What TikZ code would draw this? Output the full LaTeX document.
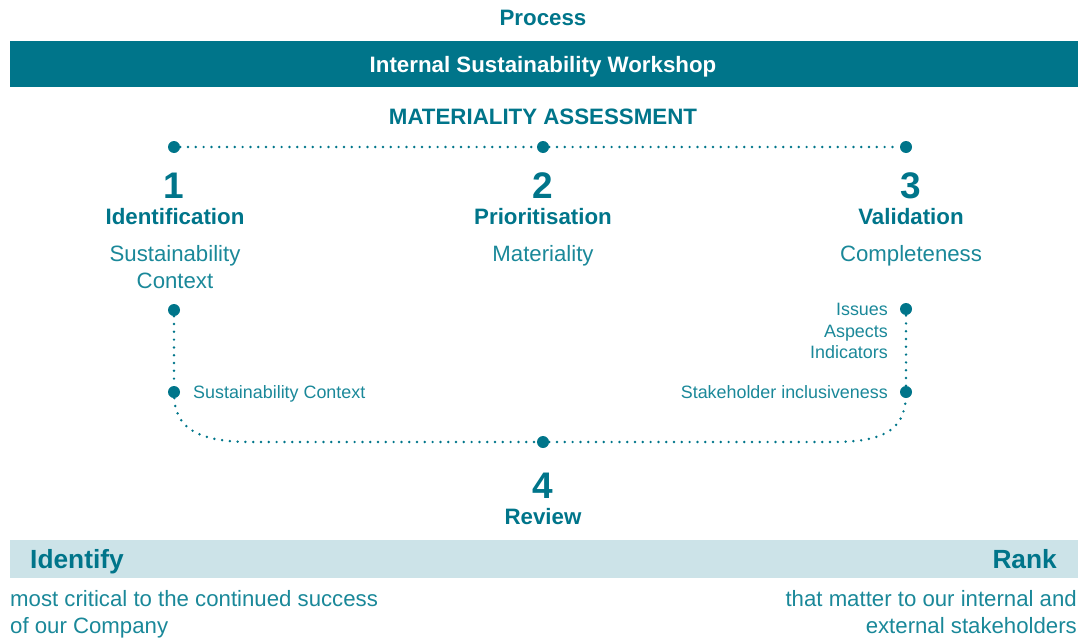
\documentclass[tikz,border=0pt]{standalone}
\usepackage{fontspec}
\setmainfont{Liberation Sans}
\definecolor{tealdark}{HTML}{00758A}
\definecolor{tealtext}{HTML}{1A8899}
\definecolor{teallight}{HTML}{CCE3E8}
\tikzset{
  txt/.style={inner sep=0pt, anchor=base, text=tealtext, font=\fontsize{22.2}{26}\selectfont},
  small/.style={inner sep=0pt, text=tealtext, font=\fontsize{17.9}{21}\selectfont},
  head/.style={inner sep=0pt, anchor=base, text=tealdark, font=\fontsize{22.3}{26}\selectfont\bfseries},
  num/.style={inner sep=0pt, anchor=base, text=tealdark, font=\fontsize{37}{40}\selectfont\bfseries},
  big/.style={inner sep=0pt, text=tealdark, font=\fontsize{26.3}{30}\selectfont\bfseries},
  dotnode/.style={circle, fill=tealdark, minimum size=12pt, inner sep=0pt},
  dotline/.style={draw=tealdark, line width=2.7pt, line cap=round, dash pattern=on 0pt off 7.8pt},
}
\begin{document}
\begin{tikzpicture}[x=1pt,y=-1pt]
\useasboundingbox (0,0) rectangle (1086,637);
% header
\node[head] (process) at (543,25) {Process};
\fill[tealdark] (10,41) rectangle (1078,87);
\node[head, text=white] (workshop) at (543,72) {Internal Sustainability Workshop};
\node[head] (mat) at (543,124) {MATERIALITY ASSESSMENT};
% top dots
\node[dotnode] (d1) at (174,147) {};
\node[dotnode] (d2) at (543,147) {};
\node[dotnode] (d3) at (906,147) {};
\draw[dotline] (d1) -- (d2);
\draw[dotline] (d2) -- (d3);
% steps
\node[num] (n1) at (174,198) {1};
\node[num] (n2) at (543,198) {2};
\node[num] (n3) at (911,198) {3};
\node[head] (h1) at (175,224) {Identification};
\node[head] (h2) at (543,224) {Prioritisation};
\node[head] (h3) at (911,224) {Validation};
\node[txt] (s1a) at (175,261) {Sustainability};
\node[txt] (s1b) at (175,288) {Context};
\node[txt] (s2) at (543,261) {Materiality};
\node[txt] (s3) at (911,261) {Completeness};
% lower loop
\node[dotnode] (d4) at (174,310) {};
\node[dotnode] (d5) at (174,392) {};
\node[dotnode] (d6) at (543,442) {};
\node[dotnode] (d7) at (906,309) {};
\node[dotnode] (d8) at (906,392) {};
\coordinate (cl) at (252,442);
\coordinate (cr) at (832,442);
\draw[dotline] (d4) -- (d5);
\draw[dotline] (d5) .. controls (176,432) and (205,442) .. (cl) -- (d6);
\draw[dotline] (d6) -- (cr) .. controls (880,442) and (904,432) .. (d8);
\draw[dotline] (d8) -- (d7);
\node[small, anchor=base west] (sc) at (193,398.5) {Sustainability Context};
\node[small, anchor=base east] (iss) at (888,315.5) {Issues};
\node[small, anchor=base east] (asp) at (888,337) {Aspects};
\node[small, anchor=base east] (ind) at (888,358.5) {Indicators};
\node[small, anchor=base east] (stk) at (888,398.5) {Stakeholder inclusiveness};
\node[num] (n4) at (543,498) {4};
\node[head] (rev) at (543,524) {Review};
% bottom bar
\fill[teallight] (10,540) rectangle (1078,578);
\node[big, anchor=base west] (ident) at (30,568) {Identify};
\node[big, anchor=base east] (rank) at (1057,568) {Rank};
\node[txt, anchor=base west] (l1) at (10,606) {most critical to the continued success};
\node[txt, anchor=base west] (l2) at (10,633) {of our Company};
\node[txt, anchor=base east] (r1) at (1077,606) {that matter to our internal and};
\node[txt, anchor=base east] (r2) at (1077,633) {external stakeholders};
\end{tikzpicture}
\end{document}
